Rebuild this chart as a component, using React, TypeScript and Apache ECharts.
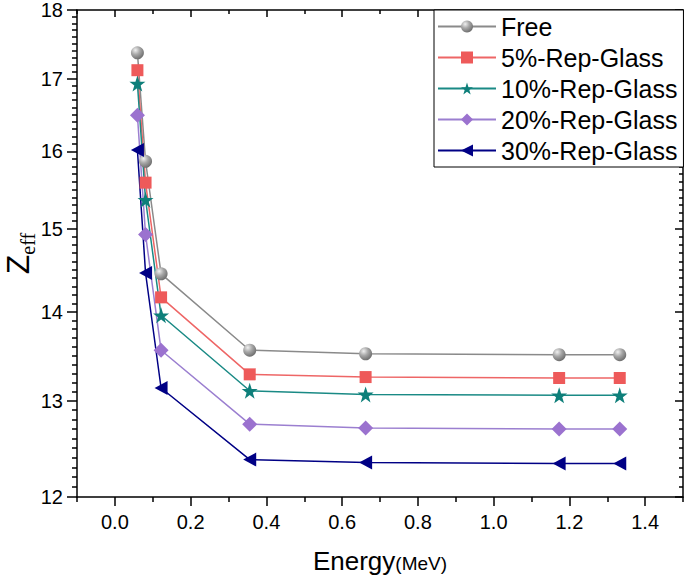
import React, { useEffect, useRef } from "react";
import * as echarts from "echarts";

const energies = [0.0595, 0.081, 0.122, 0.356, 0.662, 1.173, 1.333];
const seriesNames = ["Free", "5%-Rep-Glass", "10%-Rep-Glass", "20%-Rep-Glass", "30%-Rep-Glass"];
const free = [17.37, 15.87, 14.45, 13.56, 13.52, 13.51, 13.51];
const rep5 = [17.12, 15.59, 14.17, 13.29, 13.26, 13.25, 13.25];
const rep10 = [16.93, 15.37, 13.96, 13.11, 13.07, 13.06, 13.06];
const rep20 = [16.49, 14.93, 13.56, 12.75, 12.71, 12.7, 12.7];
const rep30 = [16.02, 14.46, 13.14, 12.38, 12.35, 12.34, 12.34];

const xMajorTicks = [0, 0.2, 0.4, 0.6, 0.8, 1.0, 1.2, 1.4];
const xMinorTicks = [-0.1, 0.1, 0.3, 0.5, 0.7, 0.9, 1.1, 1.3, 1.5];
const yMajorTicks = [12, 13, 14, 15, 16, 17, 18];

const FONT = "Liberation Sans, Arial, sans-serif";
const STAR =
  "path://M50,0 L61.8,35.1 L98.1,35.1 L68.7,56.7 L79.4,91 L50,70 L20.6,91 L31.3,56.7 L1.9,35.1 L38.2,35.1 Z";
const TRI_LEFT = "path://M0,50 L100,0 L100,100 Z";

export default function App() {
  const ref = useRef<HTMLDivElement>(null);
  useEffect(() => {
    if (!ref.current) return;
    const chart = echarts.init(ref.current, undefined, { renderer: "svg" });
    const lg = (v: number) => Math.log10(v);
    const yMin = lg(12);
    const yMax = lg(18);
    const yMinor: number[] = [];
    for (let i = 121; i < 180; i++) {
      if (i % 10 !== 0) yMinor.push(lg(i / 10));
    }
    const yMajorLog = yMajorTicks.map(lg);
    const black = { color: "#000", width: 1.5 };

    const mkX = (pos: string, vals: number[], len: number, inside: boolean, main: boolean) => ({
      type: "value",
      position: pos,
      min: -0.1,
      max: 1.5,
      splitLine: { show: false },
      axisLine: { show: main, onZero: false, lineStyle: black },
      axisTick: { show: true, customValues: vals, length: len, inside, lineStyle: black },
      axisLabel: { show: false },
    });
    const mkY = (pos: string, vals: number[], len: number, inside: boolean, main: boolean) => ({
      type: "value",
      position: pos,
      min: yMin,
      max: yMax,
      splitLine: { show: false },
      axisLine: { show: main, onZero: false, lineStyle: black },
      axisTick: { show: true, customValues: vals, length: len, inside, lineStyle: black },
      axisLabel: { show: false },
    });

    const xBottom: any = mkX("bottom", xMajorTicks, 9, false, true);
    xBottom.axisLabel = {
      show: true,
      customValues: xMajorTicks,
      formatter: (v: number) => v.toFixed(1),
      fontSize: 20,
      color: "#000",
      fontFamily: FONT,
      margin: 15,
    };
    xBottom.name = "{a|Energy}{b|(MeV)}";
    xBottom.nameLocation = "middle";
    xBottom.nameGap = 51;
    xBottom.nameMoveOverlap = false;
    xBottom.nameTextStyle = {
      rich: {
        a: { fontSize: 26, fontFamily: FONT, color: "#000", verticalAlign: "bottom" },
        b: { fontSize: 19, fontFamily: FONT, color: "#000", verticalAlign: "bottom", padding: [0, 0, 1, 0] },
      },
    };

    const yLeft: any = mkY("left", yMajorLog, 10, false, true);
    yLeft.axisLabel = {
      show: true,
      customValues: yMajorLog,
      formatter: (v: number) => String(Math.round(Math.pow(10, v))),
      fontSize: 20,
      color: "#000",
      fontFamily: FONT,
      margin: 14,
    };
    yLeft.name = "{a|Z}{b|eff}";
    yLeft.nameLocation = "middle";
    yLeft.nameRotate = 90;
    yLeft.nameGap = 43;
    yLeft.nameMoveOverlap = false;
    yLeft.nameTextStyle = {
      rich: {
        a: { fontSize: 32, lineHeight: 28, fontFamily: FONT, color: "#000", verticalAlign: "bottom" },
        b: { fontSize: 20, lineHeight: 18, fontFamily: "Liberation Serif, Times New Roman, serif", color: "#000", verticalAlign: "bottom", padding: [0, 0, -4, 0] },
      },
    };

    const ball = new echarts.graphic.RadialGradient(0.35, 0.3, 0.75, [
      { offset: 0, color: "#f0f0f0" },
      { offset: 0.45, color: "#a8a8a8" },
      { offset: 1, color: "#6a6a6a" },
    ]);

    const mkSeries = (name: string, vals: number[], color: string, lineColor: string, symbol: string, size: number | number[], mcolor?: any) => ({
      name,
      type: "line",
      xAxisIndex: 0,
      yAxisIndex: 0,
      data: energies.map((e, i) => [e, lg(vals[i])]),
      symbol,
      symbolSize: size,
      showSymbol: true,
      lineStyle: { color: lineColor, width: 1.5 },
      itemStyle: { color: mcolor || color },
      emphasis: { disabled: true },
    });

    chart.setOption({
      animation: false,
      grid: { left: 77, right: 2, top: 10, bottom: 82, containLabel: false, outerBoundsMode: "none" },
      xAxis: [
        xBottom,
        mkX("bottom", xMinorTicks, 5, false, false),
        mkX("top", xMajorTicks, 7, true, true),
        mkX("top", xMinorTicks, 4, true, false),
      ],
      yAxis: [
        yLeft,
        mkY("left", yMinor, 5, false, false),
        mkY("right", yMajorLog, 8, true, true),
        mkY("right", yMinor, 4, true, false),
      ],
      legend: {
        show: true,
        orient: "vertical",
        left: 434,
        top: 10,
        padding: [4, 6, 4, 3],
        itemWidth: 58,
        itemHeight: 15,
        itemGap: 6,
        borderColor: "#000",
        borderWidth: 1,
        borderRadius: 0,
        backgroundColor: "#fff",
        textStyle: { fontSize: 25, color: "#000", fontFamily: FONT },
        data: seriesNames,
      },
      series: [
        mkSeries(seriesNames[0], free, "#909090", "#8a8a8a", "circle", 13, ball),
        mkSeries(seriesNames[1], rep5, "#ee5a5a", "#ee6666", "rect", 12),
        mkSeries(seriesNames[2], rep10, "#0e7f7a", "#1a8a85", STAR, 16),
        mkSeries(seriesNames[3], rep20, "#9b72cf", "#9b7fd0", "diamond", 15),
        mkSeries(seriesNames[4], rep30, "#000085", "#000085", TRI_LEFT, [13, 14]),
      ],
    });
    return () => chart.dispose();
  }, []);
  return (
    <div
      ref={ref}
      style={{ position: "absolute", left: 0, top: 0, width: 685, height: 579, background: "#fff" }}
    />
  );
}
